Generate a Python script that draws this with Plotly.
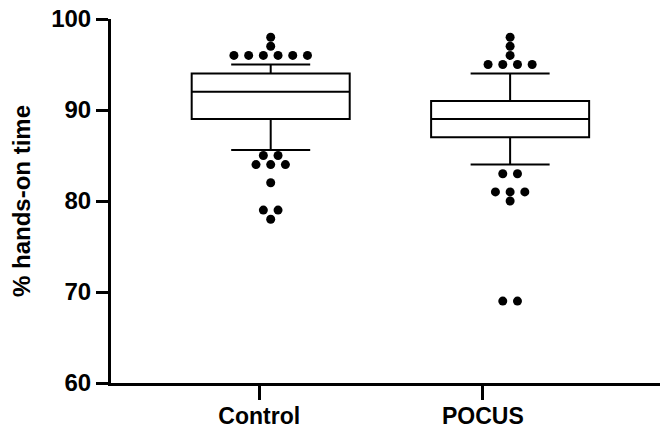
import plotly.graph_objects as go

# ---- data ----
groups = ["Control", "POCUS"]
q1 = [89, 87]
median = [92, 89]
q3 = [94, 91]
lower_whisker = [85.6, 84]
upper_whisker = [95, 94]
# outliers: value -> count
outliers_control = {98: 1, 97: 1, 96: 6, 85: 2, 84: 3, 82: 1, 79: 2, 78: 1}
outliers_pocus = {98: 1, 97: 1, 96: 1, 95: 4, 83: 2, 81: 3, 80: 1, 69: 2}
outliers = [outliers_control, outliers_pocus]
y_ticks = [60, 70, 80, 90, 100]
y_title = "% hands-on time"

# ---- style / layout constants ----
FONT = "Liberation Sans, Arial, sans-serif"
BOX_WIDTH = 0.66
DOT_SPACING = 0.0614
LABEL_OFFSET = [-0.048, -0.114]

fig = go.Figure()
for i, g in enumerate(groups):
    fig.add_trace(go.Box(
        x=[i], q1=[q1[i]], median=[median[i]], q3=[q3[i]],
        lowerfence=[lower_whisker[i]], upperfence=[upper_whisker[i]],
        boxpoints=False, width=BOX_WIDTH, whiskerwidth=0.5,
        line=dict(color="black", width=2), fillcolor="white",
        name=g, showlegend=False, hoverinfo="skip",
    ))
    xs, ys = [], []
    for val, n in outliers[i].items():
        for k in range(n):
            xs.append(i + (k - (n - 1) / 2) * DOT_SPACING)
            ys.append(val)
    fig.add_trace(go.Scatter(
        x=xs, y=ys, mode="markers",
        marker=dict(color="black", size=9),
        showlegend=False, hoverinfo="skip",
    ))

fig.update_layout(
    width=660, height=430,
    margin=dict(l=111, r=0, t=19, b=47),
    plot_bgcolor="white", paper_bgcolor="white",
    font=dict(family=FONT, color="black"),
)
fig.update_xaxes(
    range=[-0.667, 1.626], automargin=False,
    tickvals=[i + LABEL_OFFSET[i] for i in range(len(groups))],
    ticktext=groups, ticklabelstandoff=-4,
    showline=True, linecolor="black", linewidth=3,
    ticks="outside", ticklen=14, tickwidth=3, tickcolor="black",
    tickfont=dict(family=FONT, size=23, color="black", weight="bold"),
    showgrid=False, zeroline=False,
)
fig.update_yaxes(
    range=[60, 100], automargin=False,
    tickvals=y_ticks, ticklabeloverflow="allow",
    showline=True, linecolor="black", linewidth=3,
    ticks="outside", ticklen=12, tickwidth=3, tickcolor="black",
    tickfont=dict(family=FONT, size=24, color="black", weight="bold"),
    title=dict(text=y_title, font=dict(family=FONT, size=24, color="black", weight="bold"), standoff=14),
    showgrid=False, zeroline=False,
)

fig.write_html(
    "out.html",
    config={"displayModeBar": False},
    post_script="document.body.style.margin='0';document.body.style.overflow='hidden';",
)
